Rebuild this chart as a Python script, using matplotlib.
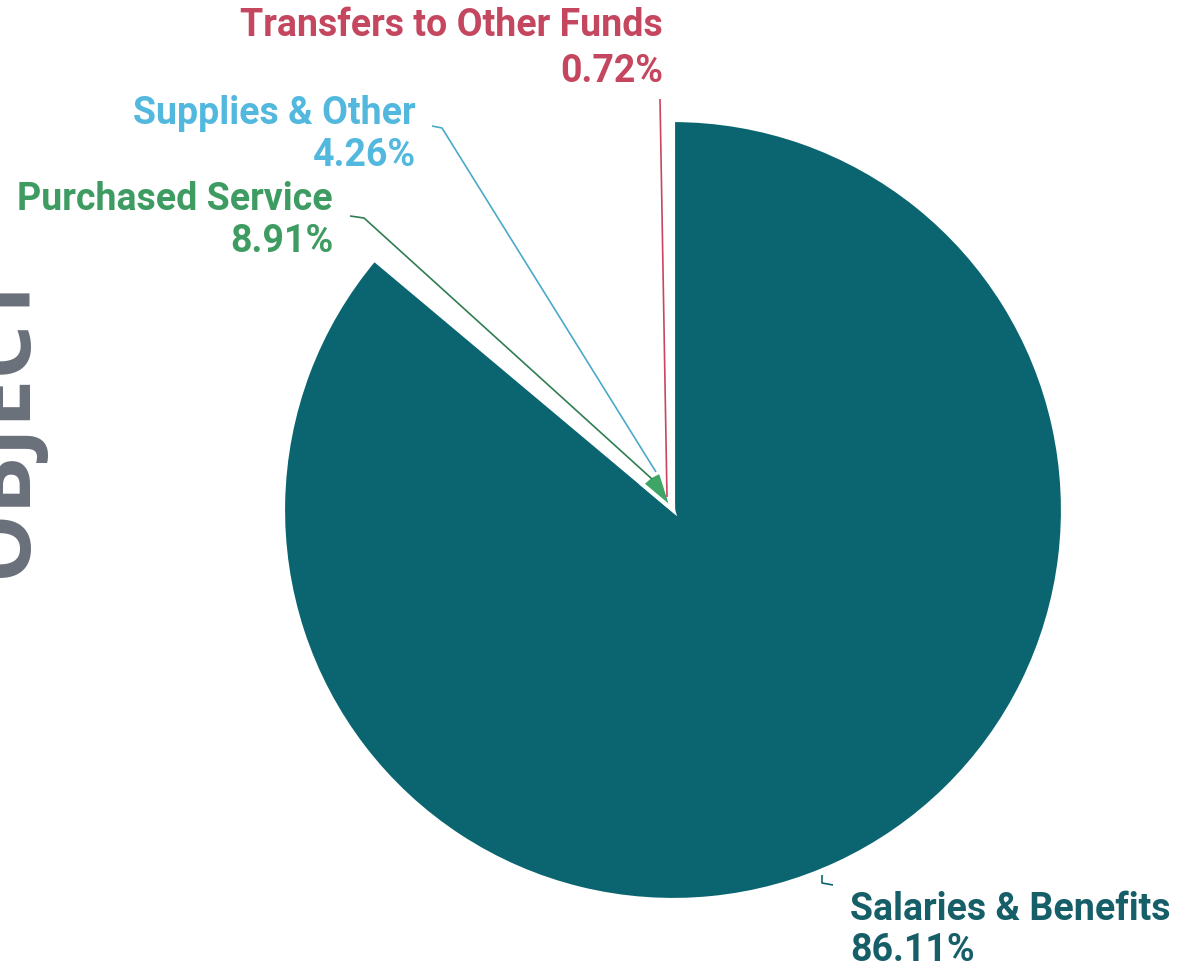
import matplotlib.pyplot as plt
import numpy as np

plt.rcParams['font.family'] = ['Roboto', 'DejaVu Sans']

labels = ['Salaries & Benefits', 'Purchased Service', 'Supplies & Other', 'Transfers to Other Funds']
shares = [86.11, 8.91, 4.26, 0.72]
colors = ['#0a6570', '#3fa566', '#5cbde2', '#c8475f']
text_colors = ['#165f68', '#3e9c63', '#53b8de', '#c4475f']

W, H = 1178, 970
fig = plt.figure(figsize=(W / 100, H / 100), dpi=100)
ax = fig.add_axes([0, 0, 1, 1])

cx, cy, R = 673, 970 - 511, 390
wedges, _ = ax.pie(shares, colors=colors, startangle=90, counterclock=False,
                   center=(cx, cy), radius=R,
                   wedgeprops=dict(edgecolor='white', linewidth=3))
# slice radius follows the share of the biggest slice
for w, v in zip(wedges, shares):
    w.set_radius(R * v / max(shares))

ax.set_xlim(0, W)
ax.set_ylim(0, H)
ax.set_aspect('equal')
ax.axis('off')

fs = 27
# label text: (x, y of name line, gap to value line, alignment)
label_pos = [(850, 910, 41, 'left'), (333, 199, 42, 'right'),
             (416, 114, 42, 'right'), (663, 26, 46, 'right')]
for (x, y, gap, ha), lab, v, c in zip(label_pos, labels, shares, text_colors):
    ax.text(x, H - y, lab, color=c, fontsize=fs, fontweight='bold', ha=ha, va='center')
    ax.text(x, H - y - gap, f'{v:.2f}%', color=c, fontsize=fs, fontweight='bold', ha=ha, va='center')

# leader lines from labels to slices
leaders = [
    ([822, 822, 833], [876, 884, 886], colors[0]),
    ([350, 364, 652], [217, 219, 480], '#2f7d52'),
    ([432, 442, 656], [127, 129, 473], '#4aaac8'),
    ([660, 667], [100, 498], colors[3]),
]
for xs, ys, c in leaders:
    ax.plot(xs, [H - y for y in ys], color=c, lw=1.2, solid_capstyle='butt')

fig.text(26 / W, 1 - 423 / H, 'OBJECT', rotation=90, rotation_mode='anchor',
         ha='center', va='baseline', fontsize=62, fontweight='bold',
         color='#6a707a', family='Open Sans')

fig.savefig('out.png', dpi=100, facecolor='white')
